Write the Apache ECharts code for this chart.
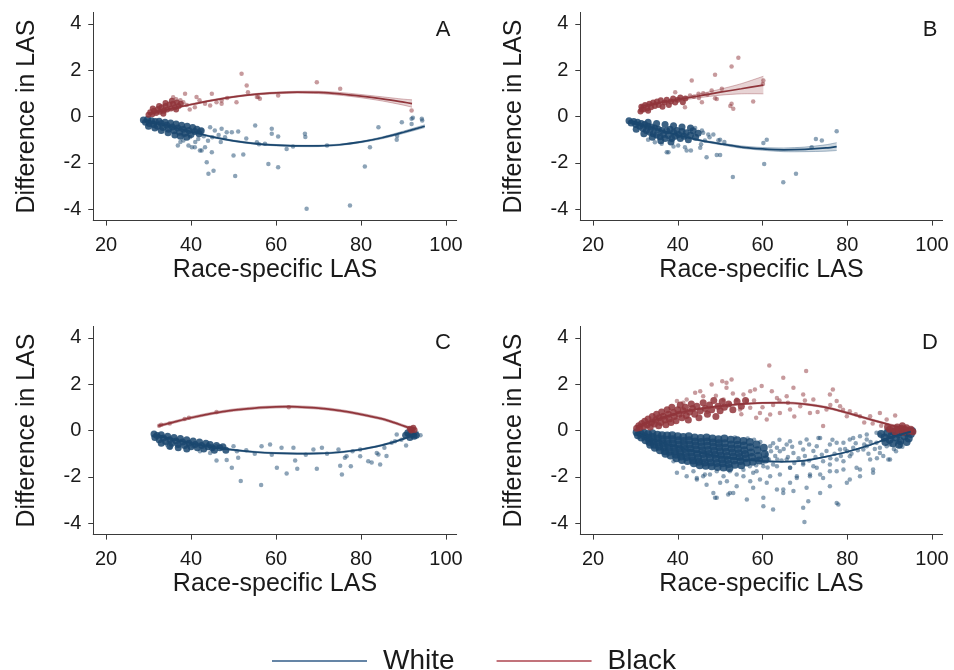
<!DOCTYPE html>
<html><head><meta charset="utf-8">
<script src="https://cdn.jsdelivr.net/npm/echarts@6/dist/echarts.min.js"></script>
<style>html,body{margin:0;padding:0;background:#fff}#c{width:954px;height:670px}</style>
</head><body><div id="c"></div>
<script>
const xTicks=[20,40,60,80,100];
const yTicks=[-4,-2,0,2,4];
const panelLetters=['A','B','C','D'];
const xTitle='Race-specific LAS';
const yTitle='Difference in LAS';
const legendNames=['White','Black'];

// ---------- Panel A ----------
const whiteDenseA=[[28.8,-0.15],[29.3,-0.25],[29.8,-0.12],[30.2,-0.3],[30.7,-0.18],[31.2,-0.35],[31.6,-0.22],[32.1,-0.42],[32.5,-0.2],[33,-0.3],[33.4,-0.48],[33.9,-0.25],[34.3,-0.38],[34.7,-0.55],[35.2,-0.28],[35.6,-0.45],[36,-0.62],[36.5,-0.32],[36.9,-0.5],[37.3,-0.68],[37.8,-0.38],[38.2,-0.55],[38.6,-0.72],[39.1,-0.42],[39.5,-0.6],[40,-0.78],[40.4,-0.48],[40.9,-0.65],[41.4,-0.55],[41.9,-0.75],[42.4,-0.62],[30,-0.42],[31.5,-0.5],[33,-0.6],[34.6,-0.7],[36.2,-0.8],[37.5,-0.85],[39,-0.9]];
const whiteA=[[36.9,-1.25],[38.2,-1.04],[39.4,-1.25],[40.9,-1.33],[39.8,-0.89],[42.5,-1.47],[43.3,-1.33],[44.9,-1.54],[43.7,-1.98],[44.1,-2.48],[45.3,-2.34],[50.4,-2.57],[50.0,-1.69],[52.3,-1.64],[47.2,-0.53],[49.6,-0.68],[51.1,-0.65],[48.4,-0.68],[55.1,-0.39],[55.5,-1.11],[57.4,-1.18],[59.0,-0.53],[59.0,-0.75],[60.5,-0.86],[58.2,-2.05],[60.5,-2.19],[62.5,-1.40],[66.8,-0.75],[66.9,-0.89],[67.2,-3.99],[77.4,-3.85],[80.9,-2.16],[82.1,-1.33],[84.1,-0.46],[88.4,-1.01],[88.5,-0.84],[91.9,-0.1],[92.2,-0.05],[94.3,-0.1],[94.4,-0.17],[91.9,-0.32],[89.6,-0.25],[45.6,-0.61],[44.5,-0.46],[42.5,-0.61],[41.7,-0.97],[38.2,-0.82],[40.2,-1.33],[42.1,-1.47],[37.5,-1.1],[41,-1.1],[46.5,-0.8],[48,-0.9],[53,-0.95],[56,-1.2],[64,-1.3],[72,-1.25],[43,-0.85],[44,-1.05],[45,-0.9],[47,-1.1]];
const blackDenseA=[[30,0.08],[30.4,0.18],[30.9,0.1],[31.3,0.25],[31.8,0.15],[32.2,0.32],[32.7,0.2],[33.1,0.4],[33.6,0.25],[34,0.45],[34.4,0.3],[34.9,0.52],[35.3,0.35],[35.8,0.55],[36.2,0.4],[36.7,0.6],[37.1,0.45],[37.6,0.55],[31,0.35],[32.5,0.45],[34,0.58],[35.5,0.68],[36.5,0.3],[33.5,0.12]];
const blackA=[[38.6,0.98],[35.8,0.83],[41.3,0.84],[44.9,0.98],[40.9,0.4],[39.7,0.3],[43.3,0.55],[47.2,0.55],[50.7,0.62],[55.8,0.84],[44.5,0.48],[38.2,0.62],[39,0.5],[42,0.7],[51.9,1.85],[53.1,1.34],[53.4,1.05],[69.6,1.48],[75.1,1.2],[60.5,0.91],[55.5,0.84],[56.2,0.77],[47.2,0.69],[91.9,0.26],[37.5,0.7],[36.5,0.75],[46,0.62],[48.5,0.8]];
const whiteFitA=[[29,-0.15],[35,-0.42],[40,-0.65],[45,-0.88],[50,-1.05],[55,-1.17],[60,-1.24],[65,-1.27],[70,-1.27],[75,-1.22],[80,-1.1],[85,-0.92],[90,-0.68],[95,-0.42]];
const whiteCiA=[0.04,0.03,0.03,0.03,0.03,0.03,0.03,0.03,0.03,0.03,0.03,0.04,0.05,0.06];
const blackFitA=[[30,0.1],[35,0.32],[40,0.52],[45,0.7],[50,0.85],[55,0.96],[60,1.02],[65,1.05],[70,1.04],[75,0.98],[80,0.88],[85,0.76],[90,0.62],[92,0.56]];
const blackCiA=[0.05,0.03,0.03,0.03,0.03,0.03,0.04,0.04,0.05,0.06,0.07,0.09,0.13,0.16];

// ---------- Panel B ----------
const whiteDenseB=[[28.5,-0.18],[29,-0.28],[29.6,-0.22],[30.1,-0.35],[30.5,-0.25],[31,-0.42],[31.4,-0.3],[31.8,-0.52],[32.2,-0.35],[32.6,-0.6],[33,-0.42],[33.4,-0.68],[33.8,-0.45],[34.2,-0.75],[34.6,-0.5],[35,-0.8],[35.4,-0.55],[35.8,-0.88],[36.2,-0.6],[36.6,-0.78],[37,-0.95],[37.4,-0.62],[37.8,-0.82],[38.2,-0.55],[38.6,-0.95],[39,-0.68],[39.4,-0.85],[39.8,-0.6],[40.2,-0.78],[40.6,-0.95],[41,-0.65],[41.5,-0.85],[42,-0.7],[42.5,-1.0],[43,-0.8],[43.6,-0.62],[44.2,-0.9],[44.8,-0.72],[32,-0.75],[34,-0.9],[36,-1.05],[38.4,-1.1],[30.2,-0.55],[33,-0.25],[35,-0.3],[37,-0.35],[39,-0.4],[41,-0.45],[43,-0.5]];
const whiteB=[[77.5,-0.64],[72.6,-0.97],[74,-1.04],[61,-1.0],[60.2,-1.15],[60.4,-2.05],[53,-2.62],[64.9,-2.84],[67.9,-2.48],[50,-1.01],[49.2,-1.66],[50,-1.66],[46.8,-1.76],[48.4,-0.78],[49.6,-1.03],[45.3,-1.35],[43.1,-1.47],[41.7,-1.33],[40.1,-1.25],[37.4,-1.54],[36.2,-1.18],[33,-1.01],[34.6,-1.11],[47.2,-0.78],[46.4,-1.04],[44.1,-0.5],[45.7,-0.61],[71.6,-1.33],[37.8,-1.54],[42.1,-1.47],[46,-0.7],[47.5,-0.9],[45.5,-1.2],[51,-1.1],[39,-1.3]];
const blackDenseB=[[31.2,0.22],[31.4,0.42],[31.9,0.3],[32.3,0.5],[32.8,0.35],[33.3,0.55],[33.7,0.4],[34.2,0.6],[34.6,0.45],[35.1,0.65],[35.5,0.5],[36,0.7],[36.4,0.42],[36.9,0.6],[37.4,0.72],[37.9,0.5],[38.4,0.65],[38.9,0.78],[39.4,0.6],[40,0.72],[40.6,0.82],[41.2,0.62],[41.8,0.78],[31.5,0.3],[33,0.25]];
const blackB=[[54.3,2.54],[52.7,2.16],[48.8,1.8],[43.3,1.56],[39.4,1.05],[60.2,1.56],[60.1,1.4],[57.8,0.65],[52.7,0.55],[53.1,0.33],[52.4,0.45],[48.8,0.79],[50.4,1.2],[45.7,0.62],[41.7,0.4],[42.9,0.91],[44.9,0.98],[48,1.12],[49.2,0.76],[46,1.0],[47,0.95],[43.8,0.85],[45,0.8]];
const whiteFitB=[[28.5,-0.2],[32,-0.38],[36,-0.6],[40,-0.8],[45,-1.02],[50,-1.18],[55,-1.32],[60,-1.4],[65,-1.44],[70,-1.42],[75,-1.36],[77.5,-1.3]];
const whiteCiB=[0.04,0.03,0.03,0.03,0.03,0.04,0.05,0.06,0.08,0.1,0.14,0.17];
const blackFitB=[[31.2,0.45],[35,0.57],[40,0.73],[45,0.89],[50,1.05],[55,1.2],[60.2,1.36]];
const blackCiB=[0.08,0.05,0.05,0.08,0.13,0.22,0.38];

// ---------- Panel C ----------
const whiteDenseC=[[31.3,-0.15],[31.5,-0.3],[32,-0.22],[32.5,-0.4],[33,-0.18],[33.5,-0.32],[34,-0.48],[34.5,-0.25],[35,-0.4],[35.5,-0.55],[36,-0.3],[36.5,-0.45],[37,-0.6],[37.5,-0.35],[38,-0.5],[38.5,-0.65],[39,-0.4],[39.5,-0.55],[40,-0.7],[40.5,-0.45],[41,-0.6],[41.5,-0.75],[42,-0.5],[42.5,-0.65],[43,-0.8],[43.5,-0.55],[44,-0.7],[44.5,-0.6],[45,-0.75],[45.5,-0.85],[46,-0.65],[46.8,-0.75],[47.5,-0.7],[48.2,-0.85],[33,-0.55],[35,-0.68],[37,-0.75],[39,-0.8],[90.5,-0.2],[91,-0.1],[91.5,-0.3],[92,-0.15],[92.5,-0.25],[93,-0.2],[91.8,-0.05]];
const whiteC=[[51.7,-2.18],[56.5,-2.36],[49.6,-1.61],[46,-1.3],[48.4,-1.27],[51.1,-1.18],[60.2,-1.61],[62.5,-1.86],[65,-1.65],[64.5,-1.3],[69.6,-1.65],[75.1,-1.52],[75.5,-1.9],[77.6,-1.54],[81.7,-1.33],[82.5,-1.38],[84.5,-1.47],[84.1,-1.04],[86,-1.1],[90.6,-0.65],[88.4,-0.17],[90.8,-0.17],[93.1,-0.1],[92.3,-0.25],[56.6,-0.68],[58.6,-0.61],[61.3,-0.75],[64.1,-0.75],[68.8,-0.82],[70.8,-0.75],[74.7,-0.82],[76.6,-1.11],[79.8,-1.11],[79.8,-0.82],[83.7,-0.97],[87.2,-0.53],[88,-0.46],[50,-0.68],[50.8,-0.9],[46,-0.68],[44.5,-0.97],[42.1,-0.9],[40.5,-0.68],[35.1,-0.75],[34.3,-0.61],[45.2,-0.75],[76.2,-1.18],[53,-0.85],[55,-1.0],[59,-1.05],[67,-1.05],[72,-1.0],[78,-0.9],[85.5,-0.75],[89.5,-0.4],[94,-0.2]];
const blackDenseC=[[91.5,0.08],[92,0.05],[92.3,0.12],[91.8,0.0],[92.6,0.02]];
const blackC=[[32.5,0.2],[33,0.25],[35,0.3],[38.5,0.5],[39.5,0.55],[46,0.8],[63,1.0]];
const whiteFitC=[[32,-0.2],[35,-0.35],[40,-0.55],[45,-0.72],[50,-0.84],[55,-0.93],[60,-0.98],[65,-1.0],[70,-0.99],[75,-0.94],[80,-0.82],[85,-0.63],[88,-0.48],[90,-0.36],[93,-0.17]];
const whiteCiC=[0.03,0.03,0.03,0.03,0.03,0.03,0.03,0.03,0.03,0.03,0.03,0.03,0.03,0.03,0.04];
const blackFitC=[[32.3,0.2],[35,0.32],[40,0.55],[45,0.74],[50,0.88],[55,0.97],[60,1.02],[63,1.03],[65,1.02],[70,0.97],[75,0.86],[80,0.7],[85,0.5],[88,0.33],[90,0.2],[92.3,0.05]];
const blackCiC=[0.05,0.05,0.05,0.05,0.05,0.05,0.05,0.05,0.05,0.05,0.05,0.05,0.05,0.05,0.05,0.06];

// ---------- Panel D ----------
const whiteDenseD=[[30.3,-0.08],[30.6,-0.2],[31.2,-0.12],[31.4,-0.3],[32,-0.1],[32.2,-0.25],[32.4,-0.42],[33,-0.15],[33.1,-0.32],[33.3,-0.5],[33.5,-0.62],[34,-0.12],[34.1,-0.28],[34.2,-0.45],[34.4,-0.62],[34.6,-0.75],[35.2,-0.18],[35.3,-0.35],[35.4,-0.52],[35.6,-0.7],[35.8,-0.85],[36.3,-0.2],[36.4,-0.38],[36.5,-0.55],[36.7,-0.72],[36.9,-0.9],[37.1,-1.0],[37.5,-0.22],[37.6,-0.4],[37.7,-0.58],[37.9,-0.75],[38.1,-0.92],[38.3,-1.08],[38.7,-0.2],[38.8,-0.38],[38.9,-0.55],[39.1,-0.72],[39.3,-0.9],[39.5,-1.05],[39.7,-1.2],[40,-0.25],[40.1,-0.42],[40.2,-0.6],[40.4,-0.78],[40.6,-0.95],[40.8,-1.12],[41,-1.28],[41.3,-0.28],[41.4,-0.45],[41.5,-0.62],[41.7,-0.8],[41.9,-0.98],[42.1,-1.15],[42.3,-1.32],[42.6,-0.25],[42.7,-0.42],[42.8,-0.6],[43,-0.78],[43.2,-0.95],[43.4,-1.12],[43.6,-1.3],[43.8,-1.42],[44,-0.3],[44.1,-0.48],[44.2,-0.65],[44.4,-0.82],[44.6,-1.0],[44.8,-1.18],[45,-1.35],[45.2,-1.5],[45.4,-0.32],[45.5,-0.5],[45.6,-0.68],[45.8,-0.85],[46,-1.02],[46.2,-1.2],[46.4,-1.38],[46.6,-1.52],[46.8,-0.3],[46.9,-0.48],[47,-0.66],[47.2,-0.84],[47.4,-1.02],[47.6,-1.2],[47.8,-1.38],[48,-1.55],[48.2,-0.35],[48.3,-0.52],[48.4,-0.7],[48.6,-0.88],[48.8,-1.05],[49,-1.22],[49.2,-1.4],[49.4,-1.58],[49.6,-0.38],[49.7,-0.55],[49.8,-0.72],[50,-0.9],[50.2,-1.08],[50.4,-1.25],[50.6,-1.42],[50.8,-1.6],[51,-0.35],[51.1,-0.55],[51.2,-0.75],[51.4,-0.92],[51.6,-1.1],[51.8,-1.28],[52,-1.45],[52.2,-1.62],[52.5,-0.4],[52.6,-0.6],[52.7,-0.78],[52.9,-0.95],[53.1,-1.12],[53.3,-1.3],[53.5,-1.48],[54,-0.42],[54.1,-0.62],[54.2,-0.8],[54.4,-0.98],[54.6,-1.15],[54.8,-1.32],[55,-1.5],[55.5,-0.45],[55.6,-0.65],[55.7,-0.85],[55.9,-1.02],[56.1,-1.2],[56.3,-1.38],[57,-0.5],[57.1,-0.72],[57.3,-0.95],[57.5,-1.15],[57.7,-1.35],[58.6,-0.6],[58.8,-0.85],[59,-1.1],[59.2,-1.3],[60.3,-0.75],[60.5,-1.02],[60.7,-1.25],[88,-0.15],[88.8,-0.3],[89.5,-0.1],[90,-0.4],[90.5,-0.2],[91,-0.05],[91.5,-0.3],[92,-0.15],[92.5,-0.45],[93,-0.05],[93.5,-0.25],[94,-0.1],[94.5,-0.35],[95,-0.15],[89,-0.5],[90.8,-0.55],[92.2,-0.62],[94,-0.5],[95.3,-0.02]];
const whiteD=[[61,-1.04],[63.4,-0.75],[65.7,-0.61],[68.9,-0.53],[73.2,-0.32],[77.5,-0.53],[80.6,-0.39],[83,-0.25],[86.9,-0.1],[89.3,0.04],[72,-0.89],[75.1,-0.89],[78.3,-0.82],[81.4,-0.75],[84.6,-0.68],[62.5,-1.47],[66.5,-1.61],[69.6,-1.47],[72.8,-1.61],[75.9,-1.47],[79.1,-1.33],[64.1,-1.9],[68.1,-2.05],[71.2,-1.9],[74.3,-2.05],[77.5,-1.76],[80.6,-2.12],[83,-1.69],[86.1,-1.69],[89.7,-1.25],[61,-2.26],[64.9,-2.55],[67.3,-2.62],[70.4,-2.48],[77.9,-3.2],[69.6,-3.34],[62.5,-3.42],[69.9,-3.95],[60.2,-2.91],[84.6,-0.17],[90.9,-0.17],[92.4,-0.46],[91.7,0.04],[87.7,-0.75],[48.4,-2.7],[49.2,-2.91],[51.9,-2.77],[53.1,-2.7],[56.3,-2.98],[60.2,-3.27],[77.5,-3.13],[70.8,-3.06],[46.8,-2.34],[44.5,-2.12],[42.1,-1.98],[46,-1.98],[50,-2.26],[53.9,-2.41],[57.8,-2.48],[59.4,-2.12],[63.4,-2.55],[64.9,-2.7],[66.5,-2.26],[73.6,-2.7],[75.9,-2.41],[79.9,-2.26],[83,-1.98],[86.1,-1.83],[90.1,-1.25],[92.4,-0.68],[39.8,-1.83],[41.3,-1.61],[43.7,-1.76],[47.6,-1.9],[50.8,-1.98],[52.3,-1.76],[55.5,-1.98],[57.8,-1.83],[61.8,-1.98],[68.1,-1.98],[71.2,-1.98],[73.6,-1.9],[75.9,-1.76],[79.1,-1.69],[82.2,-1.61],[85.4,-1.25],[87.7,-0.97],[89.3,-0.68],[69.6,-1.4],[72,-1.54],[74.3,-1.33],[77.5,-1.25],[80.6,-1.11],[83.8,-0.82],[86.9,-0.53],[65.7,-1.25],[67.3,-0.97],[69.6,-0.82],[72.8,-0.68],[75.9,-0.61],[79.1,-0.53],[81.4,-0.32],[84.6,-0.39],[87.7,-0.17],[61.8,-0.68],[64.1,-0.9],[66.5,-0.46],[70.4,-0.39],[73.6,-0.32],[60.2,-1.54],[63.4,-1.54],[66.5,-1.61],[44.5,-2.05],[46.4,-1.9],[49.2,-1.76],[51.6,-2.19],[48.8,-2.91],[52.3,-2.7],[45.3,-1.33],[53.9,-1.9],[57.1,-2.19],[58.6,-1.76],[39,-1.33],[40.5,-1.04],[63,-1.1],[64.5,-1.3],[66,-1.15],[67.5,-1.4],[68.5,-1.2],[70,-1.1],[71,-1.3],[72.5,-1.15],[74,-1.05],[76,-1.2],[77,-1.0],[78.5,-1.1],[80,-0.9],[81,-1.0],[82.5,-0.85],[84,-0.6],[85.5,-0.5],[86.5,-0.8],[88.5,-0.4],[90,-0.6],[91,-0.8],[62.5,-0.55],[64,-0.4],[67,-0.7],[71,-0.6],[76.5,-0.4],[79.5,-0.8],[82,-0.55],[85,-1.0],[87,-1.2],[88.5,-1.1],[91.5,-0.9],[93,-0.7],[55.5,-1.7],[57,-1.55],[58.5,-1.5],[60,-1.4],[61.5,-1.25],[62,-0.9],[63.5,-1.25],[65,-0.8],[61.2,-1.6],[59.5,-0.5],[56.5,-0.35],[53.5,-0.3],[58,-0.4]];
const blackDenseD=[[30.3,0.1],[30.8,0.2],[31,0.12],[31.5,0.3],[32,0.18],[32.2,0.4],[32.8,0.25],[33,0.5],[33.5,0.15],[33.8,0.35],[34,0.6],[34.5,0.28],[34.8,0.45],[35,0.7],[35.5,0.2],[35.6,0.55],[36,0.35],[36.2,0.8],[36.6,0.62],[37,0.45],[37.2,0.25],[37.5,0.9],[37.8,0.7],[38,0.5],[38.4,0.35],[38.6,1.0],[39,0.78],[39.2,0.6],[39.6,0.42],[40,0.9],[40.3,0.7],[40.6,1.1],[41,0.55],[41.3,0.85],[41.8,1.0],[42,0.65],[42.5,0.45],[42.8,0.8],[43.2,1.15],[43.5,0.95],[44,0.7],[44.5,1.05],[45,0.55],[45.3,0.85],[46,1.2],[46.5,0.95],[47,0.7],[47.5,1.1],[48,0.9],[48.5,1.3],[49,0.6],[49.5,1.05],[50,0.85],[50.5,1.25],[51,1.0],[52,1.15],[53,0.9],[54,1.25],[55,1.05],[56,1.3],[90,0.05],[90.8,0.1],[91.3,-0.05],[91.8,0.15],[92.2,0.02],[92.8,0.1],[93.2,-0.08],[93.6,0.05],[94,0.12],[94.5,-0.02],[95,0.05],[95.5,-0.05],[89.5,0.15],[93,0.2]];
const blackD=[[61.6,2.81],[70.3,2.57],[64.9,2.28],[67.3,1.85],[76.6,1.77],[75.9,1.56],[50.5,2.13],[51.5,2.06],[52.7,2.2],[48,1.99],[51.5,1.85],[57.1,1.7],[58.2,1.77],[59.8,1.92],[62.2,1.7],[63.4,1.41],[75.1,0.91],[74.3,0.19],[79.9,0.62],[80.6,0.83],[85.4,0.62],[89.3,0.48],[91.3,0.65],[44.1,1.63],[46,1.48],[45.3,1.7],[42.1,1.34],[41.3,1.2],[39.8,1.27],[55.5,1.56],[53.9,1.34],[50.8,1.34],[59.4,0.76],[61.8,0.69],[61,0.48],[64.1,0.76],[66.5,0.91],[68.9,1.05],[71.2,0.76],[72,1.34],[69.6,1.56],[65.7,1.48],[77.5,1.27],[78.3,1.05],[83,0.62],[87.7,0.76],[57.1,0.98],[54.7,0.91],[52.3,1.12],[56.3,1.27],[58,1.3],[60,1.0],[62.5,1.1],[64,1.3],[66,1.2],[67.5,0.6],[70,1.3],[73,0.8],[76,1.1],[79,0.9],[82,0.7],[84,0.35],[86,0.3],[88,0.2],[47,0.8],[49,1.5],[53,1.6],[55,0.7],[58.5,0.55]];
const whiteFitD=[[30.3,-0.12],[35,-0.45],[40,-0.72],[45,-0.95],[50,-1.12],[55,-1.25],[60,-1.32],[65,-1.35],[70,-1.3],[75,-1.13],[80,-0.92],[85,-0.65],[90,-0.32],[95,-0.05]];
const whiteCiD=[0.03,0.02,0.02,0.02,0.02,0.02,0.02,0.02,0.02,0.02,0.02,0.02,0.02,0.03];
const blackFitD=[[30.3,0.15],[35,0.48],[40,0.75],[45,0.93],[50,1.05],[55,1.14],[60,1.19],[65,1.2],[70,1.14],[75,1.0],[80,0.76],[85,0.5],[90,0.25],[95.5,0.02]];
const blackCiD=[0.04,0.03,0.03,0.03,0.03,0.03,0.03,0.04,0.04,0.04,0.04,0.04,0.04,0.05];

// ---------- build ----------
const panels=[
 {wd:whiteDenseA,w:whiteA,bd:blackDenseA,b:blackA,wf:whiteFitA,wc:whiteCiA,bf:blackFitA,bc:blackCiA},
 {wd:whiteDenseB,w:whiteB,bd:blackDenseB,b:blackB,wf:whiteFitB,wc:whiteCiB,bf:blackFitB,bc:blackCiB},
 {wd:whiteDenseC,w:whiteC,bd:blackDenseC,b:blackC,wf:whiteFitC,wc:whiteCiC,bf:blackFitC,bc:blackCiC},
 {wd:whiteDenseD,w:whiteD,bd:blackDenseD,b:blackD,wf:whiteFitD,wc:whiteCiD,bf:blackFitD,bc:blackCiD}
];
const BLUE='#1a476f', RED='#90353b';
const FONT="'Liberation Sans', Arial, sans-serif";
const TXT='#1a1a1a', AX='#3a3a3a';
const gridBoxes=[
 {left:93.25,top:12.4,width:363.4,height:208.2},
 {left:580.3,top:12.4,width:362.3,height:208.2},
 {left:93.25,top:326.4,width:363.4,height:208.2},
 {left:580.3,top:326.4,width:362.3,height:208.2}
];
const letterPos=[[443,30],[930,30],[443,343],[930,343]];
const coreSize=[7,7,7,8];

const grid=[],xAxis=[],yAxis=[],series=[],graphic=[];
panels.forEach((p,i)=>{
  grid.push(Object.assign({containLabel:false},gridBoxes[i]));
  xAxis.push({type:'value',gridIndex:i,min:17,max:102.5,
    axisLine:{show:true,onZero:false,lineStyle:{color:AX,width:1}},
    axisTick:{show:true,length:5,customValues:xTicks,lineStyle:{color:AX}},
    axisLabel:{customValues:xTicks,fontSize:20,color:TXT,margin:15,fontFamily:FONT},
    splitLine:{show:false},
    name:xTitle,nameLocation:'middle',nameGap:37,
    nameTextStyle:{fontSize:25,color:TXT,fontFamily:FONT}});
  yAxis.push({type:'value',gridIndex:i,min:-4.5,max:4.5,
    axisLine:{show:true,onZero:false,lineStyle:{color:AX,width:1}},
    axisTick:{show:true,length:5,customValues:yTicks,lineStyle:{color:AX}},
    axisLabel:{customValues:yTicks,fontSize:20,color:TXT,margin:12,fontFamily:FONT},
    splitLine:{show:false},
    name:yTitle,nameLocation:'middle',nameGap:54,
    nameTextStyle:{fontSize:25,color:TXT,fontFamily:FONT}});
  const sc=(data,color,size,op)=>({type:'scatter',xAxisIndex:i,yAxisIndex:i,data,symbolSize:size,
    itemStyle:{color,opacity:op},silent:true,animation:false,z:2});
  series.push(sc(p.w,BLUE,4.5,0.5));
  series.push(sc(p.wd,BLUE,coreSize[i],0.85));
  series.push(sc(p.b,RED,4.5,0.5));
  series.push(sc(p.bd,RED,coreSize[i]-1,0.85));
  // confidence band polygon built from fit and half-width arrays
  const band=(fit,ci,color)=>({type:'custom',xAxisIndex:i,yAxisIndex:i,silent:true,animation:false,z:3,
    data:fit.map((q,k)=>[q[0],q[1]-ci[k],q[1]+ci[k]]),
    renderItem:(params,api)=>{
      if(params.dataIndex!==0) return null;
      const upper=fit.map((q,k)=>api.coord([q[0],q[1]+ci[k]]));
      const lower=fit.map((q,k)=>api.coord([q[0],q[1]-ci[k]])).reverse();
      return {type:'group',children:[
        {type:'polygon',shape:{points:upper.concat(lower)},style:{fill:color,opacity:0.22}},
        {type:'polyline',shape:{points:upper,smooth:0.3},style:{stroke:color,lineWidth:0.7,opacity:0.5,fill:null}},
        {type:'polyline',shape:{points:lower,smooth:0.3},style:{stroke:color,lineWidth:0.7,opacity:0.5,fill:null}}
      ]};
    },
    encode:{x:0,y:1}});
  series.push(band(p.wf,p.wc,BLUE));
  series.push(band(p.bf,p.bc,RED));
  series.push({type:'line',name:legendNames[0],xAxisIndex:i,yAxisIndex:i,data:p.wf,symbol:'none',smooth:0.3,
    silent:true,animation:false,lineStyle:{color:BLUE,width:1.7},itemStyle:{color:BLUE},z:4});
  series.push({type:'line',name:legendNames[1],xAxisIndex:i,yAxisIndex:i,data:p.bf,symbol:'none',smooth:0.3,
    silent:true,animation:false,lineStyle:{color:RED,width:1.7},itemStyle:{color:RED},z:4});
  graphic.push({type:'text',x:letterPos[i][0],y:letterPos[i][1],silent:true,
    style:{text:panelLetters[i],fill:TXT,font:"22px "+FONT,align:'center',verticalAlign:'middle'}});
});

const chart=echarts.init(document.getElementById('c'),null,{renderer:'canvas'});
chart.setOption({
  backgroundColor:'#ffffff',
  animation:false,
  grid,xAxis,yAxis,series,graphic,
  legend:{left:267,top:642,selectedMode:false,icon:'rect',itemWidth:95,itemHeight:2,itemGap:42,
    textStyle:{fontSize:28,color:TXT,fontFamily:FONT,padding:[0,0,0,11]},
    data:[{name:legendNames[0],itemStyle:{color:'#6585a6'}},{name:legendNames[1],itemStyle:{color:'#c2737b'}}]}
});
</script></body></html>
